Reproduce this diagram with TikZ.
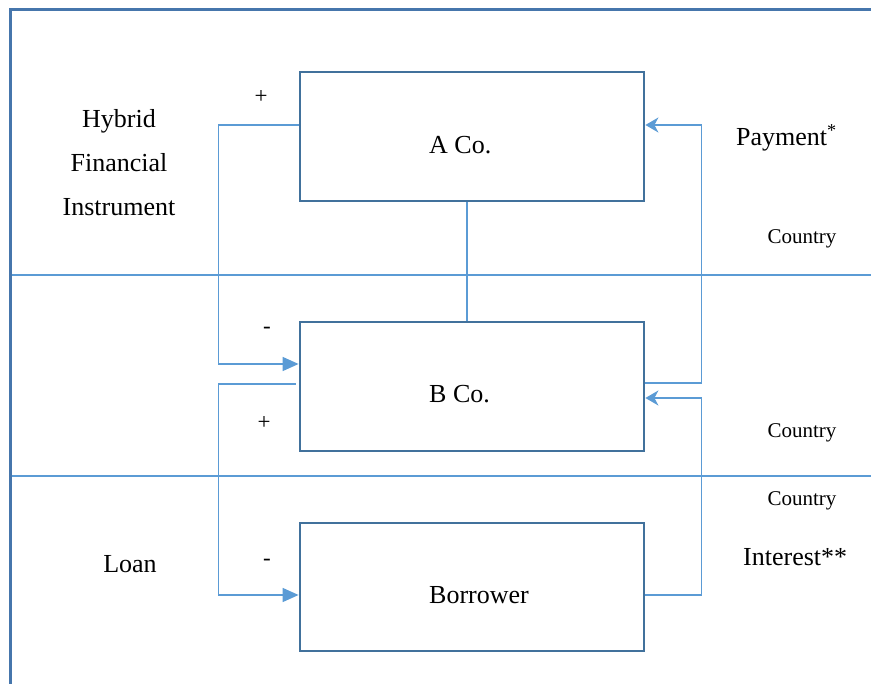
\documentclass[tikz,border=0pt]{standalone}
\usepackage{fontspec}
\setmainfont{Liberation Serif}
\usetikzlibrary{arrows.meta}
\definecolor{boxblue}{HTML}{41719C}
\definecolor{lineblue}{HTML}{5B9BD5}
\definecolor{frameblue}{HTML}{4676AC}
\tikzset{
  entity/.style={draw=boxblue, line width=2.8pt, minimum width=344pt, minimum height=128pt, inner sep=0pt},
  boxtext/.style={font=\fontsize{26}{30}\selectfont, inner sep=0pt, anchor=base west},
  conn/.style={draw=lineblue, line width=1.5pt},
  leftarrow/.style={conn, -{Triangle[length=16pt,width=14pt]}},
  rightarrow/.style={conn, -{Stealth[length=13pt,width=15pt,inset=4pt]}},
  divider/.style={draw=lineblue, line width=2.2pt},
  frame/.style={draw=frameblue, line width=2.8pt},
  lbl/.style={font=\fontsize{26}{44}\selectfont, align=center, inner sep=0pt},
  small/.style={font=\fontsize{21}{25}\selectfont, inner sep=0pt},
  sign/.style={font=\fontsize{23}{25}\selectfont, inner sep=0pt}
}
\begin{document}
\begin{tikzpicture}[x=1pt,y=-1pt]
\useasboundingbox (0,0) rectangle (871,684);
% frame
\coordinate (fbl) at (10.5,684);
\coordinate (ftl) at (10.5,9.5);
\coordinate (ftr) at (871,9.5);
\draw[frame] (fbl) -- (ftl) -- (ftr);
% dividers
\coordinate (d1l) at (12,275);
\coordinate (d1r) at (871,275);
\coordinate (d2l) at (12,476);
\coordinate (d2r) at (871,476);
\draw[divider] (d1l) -- (d1r);
\draw[divider] (d2l) -- (d2r);
% boxes
\node[entity, fill=white, minimum height=129pt] (A) at (472,136.5) {};
\node[entity, fill=white, minimum height=129pt] (B) at (472,386.5) {};
\node[entity, fill=white] (L) at (472,587) {};
\node[boxtext] (tA) at (429,154) {A Co.};
\node[boxtext] (tB) at (429,403) {B Co.};
\node[boxtext] (tL) at (429,603) {Borrower};
% vertical link A-B
\draw[conn] ([xshift=-5pt]A.south) -- ([xshift=-5pt]B.north);
% left connectors
\draw[leftarrow] ([yshift=11.5pt]A.west) -| ([xshift=-80pt,yshift=22.5pt]B.west) -- ([yshift=22.5pt]B.west);
\draw[leftarrow] ([xshift=-3pt,yshift=2.5pt]B.west) -| ([xshift=-80pt,yshift=-8pt]L.west) -- ([yshift=-8pt]L.west);
% right connectors
\draw[rightarrow] ([yshift=3.5pt]B.east) -| ([xshift=56pt,yshift=11.5pt]A.east) -- ([yshift=11.5pt]A.east);
\draw[rightarrow] ([yshift=-8pt]L.east) -| ([xshift=56pt,yshift=-11.5pt]B.east) -- ([yshift=-11.5pt]B.east);
% labels
\node[lbl] (hfi) at (119,163) {Hybrid\\Financial\\Instrument};
\node[lbl] (loan) at (130,564) {Loan};
\node[lbl, anchor=west] (pay) at (736,138) {Payment\textsuperscript{*}};
\node[lbl, anchor=west] (int) at (743,557) {Interest**};
\node[small] (c1) at (802,239) {Country};
\node[small] (c2) at (802,433) {Country};
\node[small] (c3) at (802,501) {Country};
\node[sign] (s1) at (261,97) {+};
\node[sign] (s2) at (267,330) {-};
\node[sign] (s3) at (264,423) {+};
\node[sign] (s4) at (267,562) {-};
\end{tikzpicture}
\end{document}
